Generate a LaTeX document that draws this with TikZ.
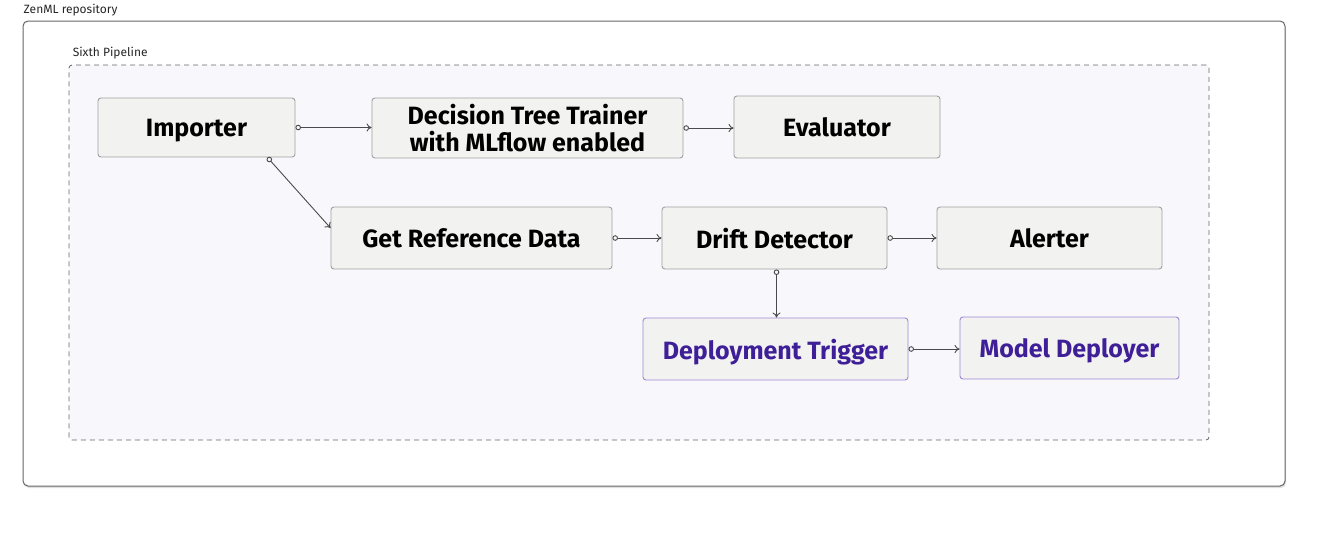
\documentclass[tikz,border=0pt]{standalone}
\usepackage{fontspec}
\setmainfont{Fira Sans}
\usetikzlibrary{arrows.meta,positioning,shadows}
\definecolor{boxfill}{HTML}{F2F2F1}
\definecolor{boxline}{HTML}{A0A0A0}
\definecolor{purpletext}{HTML}{3F1F98}
\definecolor{purpleline}{HTML}{9D88D2}
\definecolor{pipefill}{HTML}{F8F8FC}
\definecolor{edgeline}{HTML}{4A4A4A}
\tikzset{>={To[length=5pt,width=8pt]}, inner sep=0pt, font=\fontsize{25}{27}\selectfont\bfseries}
\tikzstyle{block} = [draw=boxline, fill=boxfill, rectangle, rounded corners=3pt, line width=0.9pt, text=black, text centered, align=center, text depth=0pt]
\tikzstyle{deploy} = [block, draw=purpleline, text=purpletext]
\tikzstyle{link} = [draw=edgeline, line width=0.9pt, {Circle[open,length=5.5pt,width=5.5pt]}->]
\tikzstyle{caption} = [anchor=west, font=\fontsize{12}{13}\selectfont, text=black!85]

\begin{document}
\begin{tikzpicture}[x=1pt, y=-1pt]
    \useasboundingbox (0,0) rectangle (1332,542);
    % frames
    \node [draw=black!60, fill=white, rounded corners=5pt, line width=1pt, minimum width=1262pt, minimum height=465pt,
           drop shadow={opacity=0.25, shadow xshift=1pt, shadow yshift=-2pt}] (repo) at (654,253.5) {};
    \node [caption] (repolabel) at ([xshift=1pt, yshift=10pt]repo.north west) {ZenML repository};
    \node [draw=black!60, dashed, dash pattern=on 5pt off 4pt, fill=pipefill, rounded corners=3pt, line width=0.8pt,
           minimum width=1140pt, minimum height=375pt] (pipe) at (639,252.5) {};
    \node [caption] (pipelabel) at ([xshift=4pt, yshift=12pt]pipe.north west) {Sixth Pipeline};

    % steps
    \node [block, minimum width=197pt, minimum height=59pt] (importer) at (196.5,127.5) {Importer};
    \node [block, minimum width=311pt, minimum height=60pt] (trainer) at (527.5,128) {Decision Tree Trainer\\with MLflow enabled};
    \node [block, minimum width=206pt, minimum height=62pt] (evaluator) at (837,127) {Evaluator};
    \node [block, minimum width=281pt, minimum height=62pt] (refdata) at (471.5,238) {Get Reference Data};
    \node [block, minimum width=225pt, minimum height=62pt] (drift) at (774.5,238) {Drift Detector};
    \node [block, minimum width=225pt, minimum height=62pt] (alerter) at (1049.5,238) {Alerter};
    \node [deploy, minimum width=265pt, minimum height=62pt] (trigger) at (775.5,349) {Deployment Trigger};
    \node [deploy, minimum width=219pt, minimum height=62pt] (deployer) at (1069.5,348) {Model Deployer};

    \draw [link] (importer.east) -- (importer.east -| trainer.west);
    \draw [link] (trainer.east) -- (trainer.east -| evaluator.west);
    \draw [link] ([xshift=-28pt]importer.south east) -- ([yshift=10pt]refdata.west);
    \draw [link] (refdata.east) -- (refdata.east -| drift.west);
    \draw [link] (drift.east) -- (drift.east -| alerter.west);
    \draw [link] ([xshift=2pt]drift.south) -- ([xshift=2pt]drift.south |- trigger.north);
    \draw [link] (trigger.east) -- (trigger.east -| deployer.west);
\end{tikzpicture}
\end{document}
